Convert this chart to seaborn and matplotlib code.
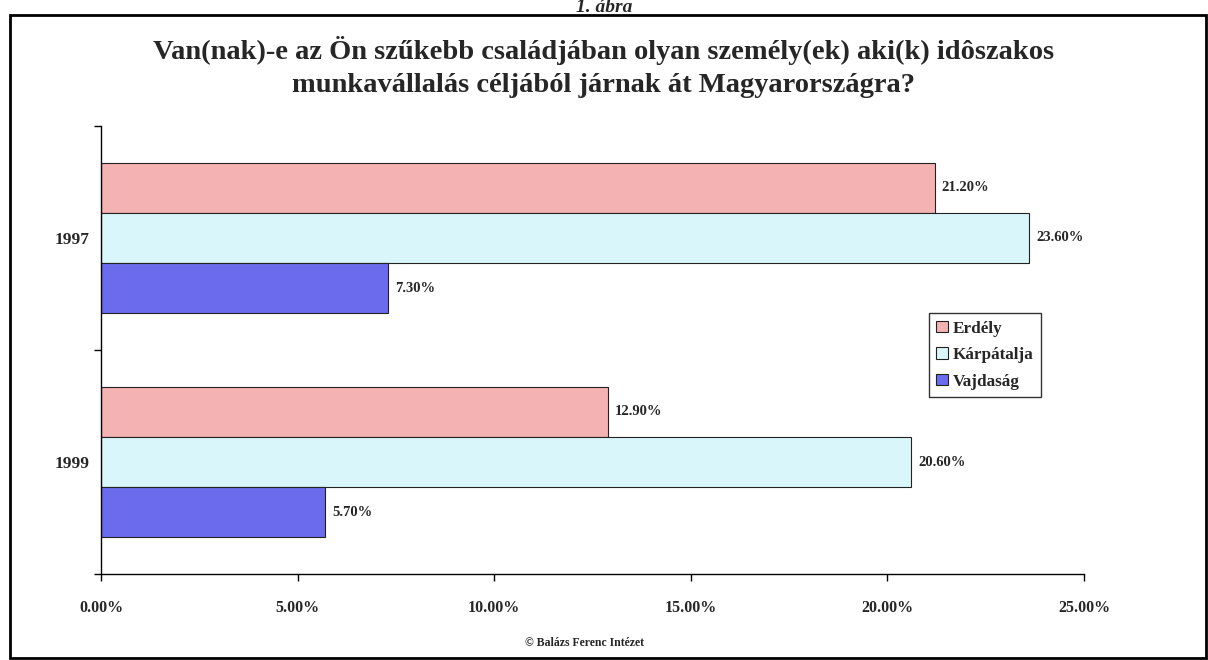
import matplotlib
matplotlib.use("Agg")
import matplotlib.pyplot as plt
import matplotlib.patches as mpatches
from matplotlib.ticker import FuncFormatter
import pandas as pd
import seaborn as sns

# data
years = ["1997", "1999"]
regions = ["Erdély", "Kárpátalja", "Vajdaság"]
erdely = [21.2, 12.9]
karpatalja = [23.6, 20.6]
vajdasag = [7.3, 5.7]

colors = {"Erdély": "#F4B2B2", "Kárpátalja": "#D9F7FB", "Vajdaság": "#6B6BEE"}

rows = []
for series, vals in zip(regions, [erdely, karpatalja, vajdasag]):
    for y, v in zip(years, vals):
        rows.append({"Év": y, "Régió": series, "Érték": v})
df = pd.DataFrame(rows)

sns.set_style("white")
plt.rcParams["font.family"] = ["Liberation Serif", "DejaVu Serif"]
plt.rcParams["font.weight"] = "bold"

fig = plt.figure(figsize=(12.08, 6.6), dpi=100)
ax = fig.add_axes([0.0836, 0.1303, 0.8138, 0.6788])

sns.barplot(data=df, y="Év", x="Érték", hue="Régió", order=years,
            hue_order=regions, palette=colors, orient="h", width=0.67,
            edgecolor="#222222", linewidth=0.8, saturation=1, ax=ax,
            legend=True)

# value labels
for cont in ax.containers:
    ax.bar_label(cont, labels=[f"{v:.2f}%" for v in cont.datavalues],
                 padding=5, fontsize=10.5, fontweight="bold")

ax.set_xlim(0, 25)
ax.set_ylim(1.5, -0.5)
ax.set_xticks([0, 5, 10, 15, 20, 25])
ax.xaxis.set_major_formatter(FuncFormatter(lambda v, p: f"{v:.2f}%"))
ax.tick_params(axis="x", bottom=True, length=5, width=1, direction="out",
               labelsize=11.5, pad=14, color="black")
ax.tick_params(axis="y", which="major", left=True, length=0, labelsize=12.5, pad=8)
ax.set_yticks([-0.5, 0.5, 1.5], minor=True)
ax.tick_params(axis="y", which="minor", left=True, length=5, width=1,
               direction="out", color="black")
for lab in ax.get_xticklabels() + ax.get_yticklabels():
    lab.set_fontweight("bold")

ax.set_xlabel("")
ax.set_ylabel("")
sns.despine(ax=ax, top=True, right=True)
for s in ["left", "bottom"]:
    ax.spines[s].set_color("black")
    ax.spines[s].set_linewidth(1)

leg = ax.legend(loc="upper left", bbox_to_anchor=(0.842, 0.583), borderaxespad=0,
                frameon=True, fancybox=False, edgecolor="black", handlelength=0.65,
                handleheight=0.65, handletextpad=0.3, borderpad=0.45,
                labelspacing=0.62, prop={"weight": "bold", "size": 12.3})
leg.get_frame().set_linewidth(1)

fig.text(0.5, 0.851, "Van(nak)-e az Ön szűkebb családjában olyan személy(ek) aki(k) idôszakos\n"
         "munkavállalás céljából járnak át Magyarországra?",
         ha="center", va="bottom", fontsize=20.5, fontweight="bold", linespacing=1.45)
fig.text(0.484, 0.025, "© Balázs Ferenc Intézet", ha="center", va="center",
         fontsize=8.5, fontweight="bold")
fig.text(0.5, 1 - 12.5 / 660, "1. ábra", ha="center", va="baseline", fontsize=14,
         fontweight="bold", style="italic")

# outer frame
fig.patches.append(mpatches.Rectangle((10 / 1208, 2 / 660), 1196 / 1208, 643 / 660,
                                      transform=fig.transFigure, fill=False,
                                      edgecolor="black", linewidth=2))

fig.savefig("out.png", dpi=100)
